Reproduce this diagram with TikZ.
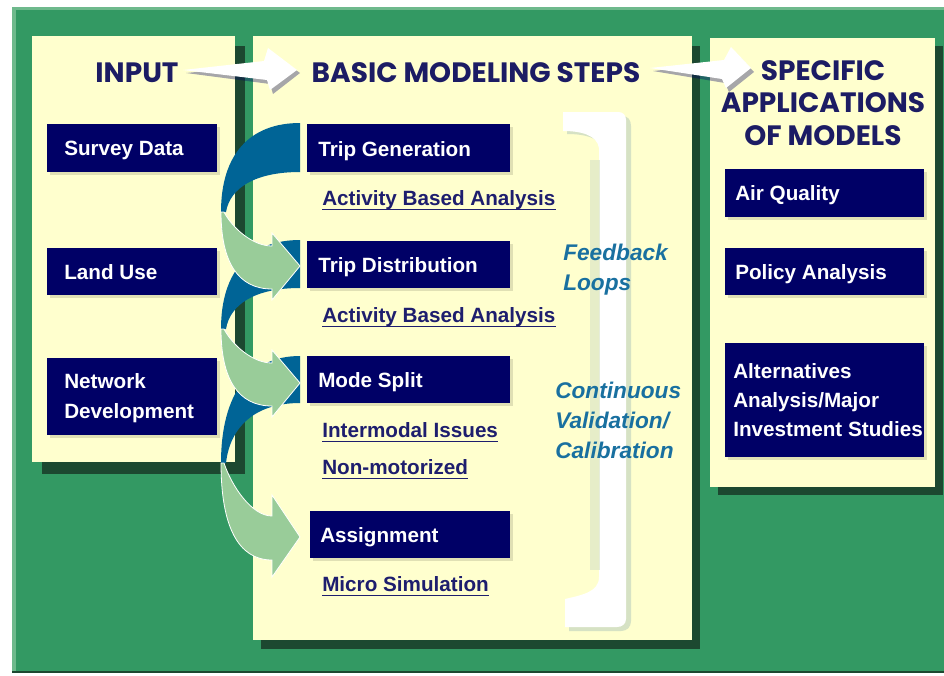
\documentclass[tikz,border=0pt]{standalone}
\usepackage{fontspec}
\setmainfont{Liberation Sans}
\newfontfamily\titlefont{Poppins}
\usetikzlibrary{calc}
\definecolor{bggreen}{RGB}{51,153,99}
\definecolor{bgedge}{RGB}{110,185,140}
\definecolor{shgreen}{RGB}{28,72,48}
\definecolor{cream}{RGB}{255,255,206}
\definecolor{navy}{RGB}{0,0,102}
\definecolor{titlenavy}{RGB}{28,28,100}
\definecolor{linknavy}{RGB}{30,30,110}
\definecolor{helixblue}{RGB}{0,100,150}
\definecolor{helixgreen}{RGB}{153,204,153}
\definecolor{loopblue}{RGB}{25,112,160}
\definecolor{brshade}{RGB}{214,226,196}

\tikzset{
  boxtxt/.style={anchor=base west, inner sep=0pt, text=white,
    font=\bfseries\fontsize{15.5}{22}\selectfont},
  boxtxtm/.style={anchor=west, inner sep=0pt, text=white, align=left,
    font=\bfseries\fontsize{15.5}{22}\selectfont},
  linktxt/.style={anchor=base west, inner sep=0pt, text=linknavy,
    text height=11pt, text depth=3pt,
    font=\bfseries\fontsize{15.5}{18}\selectfont},
  uline/.style={linknavy, line width=1.1pt},
  titletxt/.style={anchor=base, inner sep=0pt, text=titlenavy,
    font=\titlefont\bfseries\fontsize{21}{24.4}\selectfont},
  looptxt/.style={anchor=base west, inner sep=0pt, text=loopblue, align=left,
    font=\bfseries\itshape\fontsize{17}{22.3}\selectfont},
  navyfill/.style={fill=navy},
  boxshadow/.style={fill=black, opacity=0.12},
  panelfill/.style={fill=cream},
  panelshadow/.style={fill=shgreen},
  backband/.style={fill=helixblue},
  frontband/.style={fill=helixgreen, draw=white, line width=0.6pt},
  whitearrow/.style={fill=white},
  arrowshadow/.style={fill=navy, opacity=0.35}
}

% dark (back) half of a helix arrow: #1 top, #2 box bottom, #3 left y
\newcommand\helixback[3]{%
  \path[backband] (300,#1) .. controls (250,#1) and (221,{#3-0.65*(#3-#1)}) .. (221,#3)
    -- (226,#3) .. controls (230,{#3-0.6*(#3-#2)}) and (255,#2) .. (300,#2) -- cycle;}
% light (front) half: #1 left y, #2 shaft top, #3 shaft bottom, #4 head top, #5 tip, #6 head bottom
\newcommand\helixfront[6]{%
  \path[frontband] (221,#1) .. controls (221,{#1+0.65*(#3-#1)}) and (238,#3) .. (272,#3)
    -- (272,#6) -- (300,#5) -- (272,#4) -- (272,#2)
    .. controls (252,#2) and (232,{#1+0.45*(#2-#1)}) .. (224,#1) -- cycle;}
% navy box: x1, y1, x2, y2
\newcommand\navyrect[4]{%
  \path[boxshadow] (#1+3,#2+3) rectangle (#3+3,#4+3);
  \path[navyfill] (#1,#2) rectangle (#3,#4);}

\begin{document}
\begin{tikzpicture}[x=0.75pt,y=-0.75pt]
\useasboundingbox (0,0) rectangle (944,675);
\fill[white] (0,0) rectangle (944,675);
% green background
\fill[bggreen] (12,7) rectangle (944,673);
\fill[bgedge] (12,7) rectangle (16,673);
\fill[bgedge] (12,7) rectangle (944,10);
\fill[shgreen] (12,671) rectangle (944,673);

% panels with shadows
\path[panelshadow] (42,46) rectangle (245,474);
\path[panelfill] (32,36) rectangle (235,462);
\path[panelshadow] (261,46) rectangle (700,649);
\path[panelfill] (253,36) rectangle (692,640);
\path[panelshadow] (718,46) rectangle (943,495);
\path[panelfill] (710,38) rectangle (935,487);

% titles
\node[titletxt] (tin) at (137,82) {INPUT};
\node[titletxt] (tbasic) at (476,82) {BASIC MODELING STEPS};
\node[titletxt, anchor=north, align=center] (tspec) at (823,60) {SPECIFIC\\APPLICATIONS\\OF MODELS};

% white arrows between titles
\path[arrowshadow] (186,73) -- (267,65) -- (271,52) -- (300,73) -- (273,94) -- (270,84) -- cycle;
\path[whitearrow] (183,70) -- (264,61) -- (268,48) -- (297,70) -- (270,90) -- (267,80) -- cycle;
\path[arrowshadow] (653,71) -- (727,63) -- (734,51) -- (754,72) -- (729,92) -- (725,83) -- cycle;
\path[whitearrow] (650,68) -- (724,60) -- (731,47) -- (751,68) -- (726,88) -- (722,79) -- cycle;

% input boxes
\navyrect{47}{124}{217}{172}
\node[boxtxt] (survey) at (64,155) {Survey Data};
\navyrect{47}{248}{217}{295}
\node[boxtxt] (landuse) at (64,279) {Land Use};
\navyrect{47}{358}{217}{435}
\node[boxtxtm] (network) at (64,398) {Network\\Development};

% bracket
\path[fill=brshade] (567,116) -- (622,116) .. controls (628,116) and (631,120) .. (631,126)
  -- (631,621) .. controls (631,627) and (627,631) .. (621,631) -- (569,631) -- (569,602)
  .. controls (585,598) and (603,595) .. (603,580) -- (603,150) .. controls (601,138) and (585,134) .. (567,134) -- cycle;
\path[fill=white] (563,112) -- (618,112) .. controls (623,112) and (626,115) .. (626,120)
  -- (626,619) .. controls (626,624) and (622,627) .. (617,627) -- (565,627) -- (565,599)
  .. controls (582,595) and (599,592) .. (599,577) -- (599,148) .. controls (597,135) and (581,131) .. (563,131) -- cycle;
\path[fill=brshade, opacity=0.6] (590,160) rectangle (600,570);

% helix arrows (back halves first)
\helixback{123}{172}{212}
\helixback{240}{288}{329}
\helixback{356}{403}{463}

% middle boxes
\navyrect{307}{124}{510}{172}
\node[boxtxt] (tgen) at (318,156) {Trip Generation};
\navyrect{307}{241}{510}{288}
\node[boxtxt] (tdist) at (318,272) {Trip Distribution};
\navyrect{307}{356}{510}{403}
\node[boxtxt] (msplit) at (318,387) {Mode Split};
\navyrect{310}{511}{510}{558}
\node[boxtxt] (assign) at (320,542) {Assignment};

% helix arrows (front halves)
\helixfront{212}{246}{289}{233}{266}{300}
\helixfront{329}{363}{406}{350}{383}{417}
\helixfront{463}{516}{560}{495}{537}{577}

% links
\node[linktxt] (aba1) at (322,205) {Activity Based Analysis};
\draw[uline] (aba1.south west) -- (aba1.south east);
\node[linktxt] (aba2) at (322,322) {Activity Based Analysis};
\draw[uline] (aba2.south west) -- (aba2.south east);
\node[linktxt] (inter) at (322,437) {Intermodal Issues};
\draw[uline] (inter.south west) -- (inter.south east);
\node[linktxt] (nonmot) at (322,474) {Non-motorized};
\draw[uline] (nonmot.south west) -- (nonmot.south east);
\node[linktxt] (micro) at (322,591) {Micro Simulation};
\draw[uline] (micro.south west) -- (micro.south east);

% loop texts (base = baseline of the last line)
\node[looptxt] (feedback) at (563,290) {Feedback\\Loops};
\node[looptxt] (contval) at (555,458) {Continuous\\Validation/\\Calibration};

% application boxes
\navyrect{725}{169}{924}{217}
\node[boxtxt] (airq) at (735,200) {Air Quality};
\navyrect{725}{248}{924}{295}
\node[boxtxt] (policy) at (735,279) {Policy Analysis};
\navyrect{725}{343}{924}{457}
\node[boxtxtm] (altern) at (733,400) {Alternatives\\Analysis/Major\\Investment Studies};
\end{tikzpicture}
\end{document}
